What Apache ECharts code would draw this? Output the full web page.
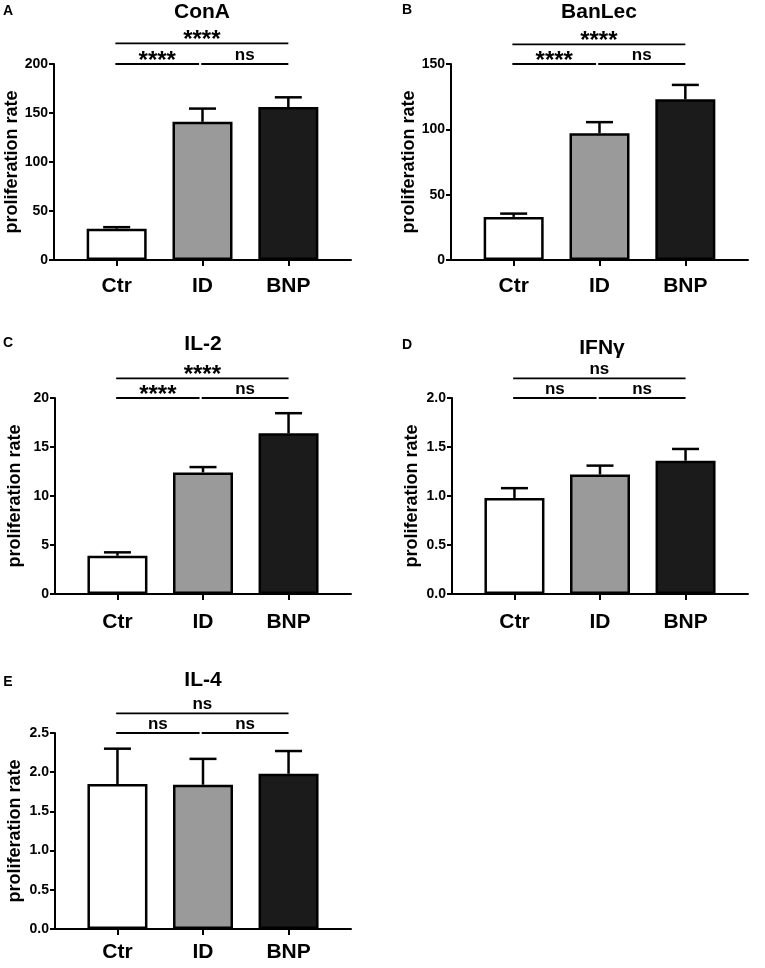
<!DOCTYPE html>
<html>
<head>
<meta charset="UTF-8">
<title>proliferation rate</title>
<script src="https://cdn.jsdelivr.net/npm/echarts@6/dist/echarts.min.js"></script>
<style>
html, body { margin: 0; padding: 0; background: #fff; }
#chart { width: 765px; height: 968px; }
</style>
</head>
<body>
<div id="chart"></div>
<script>
// groups and colours
var categories = ['Ctr', 'ID', 'BNP'];
var barColors = ['#ffffff', '#9a9a9a', '#1b1b1b'];

var panelLetters = ['A', 'B', 'C', 'D', 'E'];
var panelTitles = ['ConA', 'BanLec', 'IL-2', 'IFNγ', 'IL-4'];

// mean and upper error (SEM)
var conaMean = [32, 141, 156];
var conaErr = [1.5, 13.5, 10];
var banlecMean = [33, 97, 123];
var banlecErr = [2.5, 8.5, 11];
var il2Mean = [3.9, 12.4, 16.4];
var il2Err = [0.35, 0.55, 2.05];
var ifngMean = [0.98, 1.22, 1.36];
var ifngErr = [0.1, 0.09, 0.12];
var il4Mean = [1.85, 1.84, 1.98];
var il4Err = [0.45, 0.33, 0.29];

// y axes
var yMax = [200, 150, 20, 2.0, 2.5];
var yStep = [50, 50, 5, 0.5, 0.5];
var yDecimals = [0, 0, 0, 1, 1];

// significance brackets: Ctr-ID, ID-BNP, Ctr-BNP
var comparisons = [[0, 1], [1, 2], [0, 2]];
var bracketLow = [200, 150, 20, 2.0, 2.5];
var bracketHigh = [221, 165, 22, 2.2, 2.75];
var sigLabels = [
    ['****', 'ns', '****'],
    ['****', 'ns', '****'],
    ['****', 'ns', '****'],
    ['ns', 'ns', 'ns'],
    ['ns', 'ns', 'ns']
];

var means = [conaMean, banlecMean, il2Mean, ifngMean, il4Mean];
var errs = [conaErr, banlecErr, il2Err, ifngErr, il4Err];

var FONT = '"Liberation Sans", Arial, sans-serif';

// plot boxes (px)
var grids = [
    {left: 54, top: 64, width: 297, height: 196},
    {left: 451, top: 64, width: 297, height: 196},
    {left: 55, top: 398, width: 296, height: 196},
    {left: 452, top: 398, width: 296, height: 196},
    {left: 55, top: 733, width: 296, height: 196}
];
var titlePos = [[202, 12], [599, 12], [203, 344], [602, 348], [203, 680]];
var letterPos = [[8, 11], [407, 10], [8, 343], [407, 345], [8, 682]];
var labelMargin = [16, 16, 18, 18, 13];

var chart = echarts.init(document.getElementById('chart'));

var xAxes = [], yAxes = [], series = [], graphics = [];

grids.forEach(function (g, i) {
    xAxes.push({
        gridIndex: i,
        type: 'value',
        min: -0.73,
        max: 2.73,
        axisLine: {show: true, onZero: false, lineStyle: {color: '#000', width: 2}},
        axisTick: {show: true, customValues: [0, 1, 2], length: 6, lineStyle: {color: '#000', width: 2}},
        axisLabel: {
            customValues: [0, 1, 2],
            formatter: function (v) { return categories[Math.round(v)]; },
            margin: labelMargin[i],
            color: '#000',
            fontSize: 21,
            fontWeight: 'bold',
            fontFamily: FONT
        },
        splitLine: {show: false}
    });
    yAxes.push({
        gridIndex: i,
        type: 'value',
        min: 0,
        max: yMax[i],
        interval: yStep[i],
        name: 'proliferation rate',
        nameLocation: 'middle',
        nameGap: 31,
        nameTextStyle: {color: '#000', fontSize: 18, fontWeight: 'bold', fontFamily: FONT},
        axisLine: {show: true, onZero: false, lineStyle: {color: '#000', width: 2}},
        axisTick: {show: true, length: 5, lineStyle: {color: '#000', width: 2}},
        axisLabel: {
            margin: 6,
            color: '#000',
            fontSize: 14,
            fontWeight: 'bold',
            fontFamily: FONT,
            formatter: function (v) { return v.toFixed(yDecimals[i]); }
        },
        splitLine: {show: false}
    });

    series.push({
        type: 'bar',
        xAxisIndex: i,
        yAxisIndex: i,
        barWidth: 60,
        silent: true,
        itemStyle: {borderColor: '#000', borderWidth: 2.5},
        data: means[i].map(function (m, j) {
            return {value: [j, m], itemStyle: {color: barColors[j]}};
        })
    });

    // upper error bars
    series.push({
        type: 'custom',
        xAxisIndex: i,
        yAxisIndex: i,
        silent: true,
        z: 3,
        encode: {x: 0, y: 1},
        data: means[i].map(function (m, j) { return [j, m, errs[i][j]]; }),
        renderItem: function (params, api) {
            var x = api.value(0), m = api.value(1), e = api.value(2);
            var p0 = api.coord([x, m]);
            var p1 = api.coord([x, m + e]);
            var st = {stroke: '#000', lineWidth: 2.5};
            return {
                type: 'group',
                children: [
                    {type: 'line', shape: {x1: p0[0], y1: p0[1], x2: p1[0], y2: p1[1]}, style: st},
                    {type: 'line', shape: {x1: p1[0] - 13.5, y1: p1[1], x2: p1[0] + 13.5, y2: p1[1]}, style: st}
                ]
            };
        }
    });

    // significance brackets
    series.push({
        type: 'custom',
        xAxisIndex: i,
        yAxisIndex: i,
        silent: true,
        clip: false,
        encode: {x: [0, 1], y: 2},
        data: comparisons.map(function (c, k) {
            return [c[0], c[1], k < 2 ? bracketLow[i] : bracketHigh[i], k];
        }),
        renderItem: function (params, api) {
            var k = api.value(3);
            var x2 = api.value(1) - (k === 0 ? 0.04 : 0);
            var a = api.coord([api.value(0) - 0.015, api.value(2)]);
            var b = api.coord([x2, api.value(2)]);
            var txt = sigLabels[i][k];
            var stars = txt.indexOf('*') >= 0;
            return {
                type: 'group',
                children: [
                    {type: 'line', shape: {x1: a[0], y1: a[1], x2: b[0], y2: b[1]},
                        style: {stroke: '#000', lineWidth: 1.8}},
                    {type: 'text', x: (a[0] + b[0]) / 2, y: a[1] - (stars ? 3 : 9),
                        style: {text: txt, fill: '#000', align: 'center', verticalAlign: 'middle',
                            fontSize: stars ? 24 : 17, fontWeight: 'bold', fontFamily: FONT}}
                ]
            };
        }
    });

    graphics.push({
        type: 'text', x: titlePos[i][0], y: titlePos[i][1],
        style: {text: panelTitles[i], fill: '#000', align: 'center', verticalAlign: 'middle',
            fontSize: 21, fontWeight: 'bold', fontFamily: FONT}
    });
    graphics.push({
        type: 'text', x: letterPos[i][0], y: letterPos[i][1],
        style: {text: panelLetters[i], fill: '#000', align: 'center', verticalAlign: 'middle',
            fontSize: 14, fontWeight: 'bold', fontFamily: FONT}
    });
});

var option = {
    animation: false,
    backgroundColor: '#fff',
    grid: grids,
    xAxis: xAxes,
    yAxis: yAxes,
    series: series,
    graphic: graphics
};

chart.setOption(option);
</script>
</body>
</html>
